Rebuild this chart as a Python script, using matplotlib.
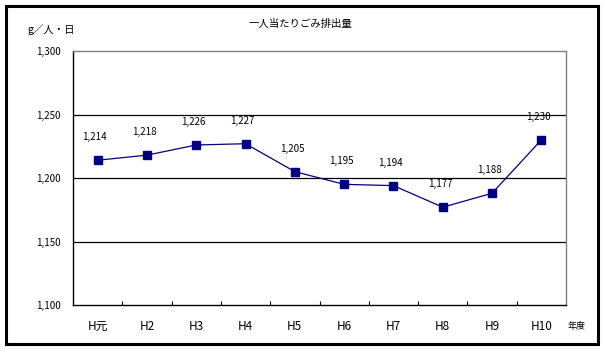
import matplotlib.pyplot as plt
import numpy as np
from matplotlib.patches import Rectangle

plt.rcParams['font.family'] = ['Noto Sans CJK JP', 'DejaVu Sans']

years = ['H元', 'H2', 'H3', 'H4', 'H5', 'H6', 'H7', 'H8', 'H9', 'H10']
values = [1214, 1218, 1226, 1227, 1205, 1195, 1194, 1177, 1188, 1230]
yticks = [1100, 1150, 1200, 1250, 1300]

fig = plt.figure(figsize=(6.05, 3.52), dpi=100)
ax = fig.add_axes([73 / 605, 47 / 352, 493 / 605, 254 / 352])

x = np.arange(len(years))
ax.plot(x, values, color='#000080', linewidth=0.9, marker='s', markersize=5.5,
        markerfacecolor='#000080', markeredgecolor='#000080', zorder=3)
for xi, v in zip(x, values):
    ax.annotate(f'{v:,}', (xi, v), xytext=(-2, 13), textcoords='offset points',
                ha='center', va='bottom', fontsize=7)

ax.set_xlim(-0.5, len(years) - 0.5)
ax.set_ylim(1100, 1300)
ax.set_yticks(yticks)
ax.set_yticklabels([f'{t:,}' for t in yticks], fontsize=7)
for t in yticks[1:-1]:
    ax.axhline(t, color='black', linewidth=0.9, zorder=1)

ax.set_xticks(x)
ax.set_xticklabels(years, fontsize=8.5)
ax.set_xticks(np.arange(0.5, len(years) - 0.5), minor=True)
ax.tick_params(axis='x', which='major', length=0, pad=11)
ax.tick_params(axis='x', which='minor', direction='in', length=3, width=0.8)
ax.tick_params(axis='y', length=0, pad=9)

ax.spines['left'].set_color('black')
ax.spines['bottom'].set_color('black')
ax.spines['top'].set_color('#808080')
ax.spines['right'].set_color('#808080')
for s in ax.spines.values():
    s.set_linewidth(1.0)

fig.text(300 / 605, 1 - 24 / 352, '一人当たりごみ排出量', ha='center', va='center', fontsize=7.5)
fig.text(28 / 605, 1 - 30 / 352, 'g／人・日', ha='left', va='center', fontsize=7.5)
fig.text(577 / 605, 1 - 327 / 352, '年度', ha='center', va='center', fontsize=6.5)

fig.patches.append(Rectangle((6 / 605, 8 / 352), 592 / 605, 338 / 352, transform=fig.transFigure,
                             fill=False, edgecolor='black', linewidth=2.2))

fig.savefig('out.png', dpi=100)
